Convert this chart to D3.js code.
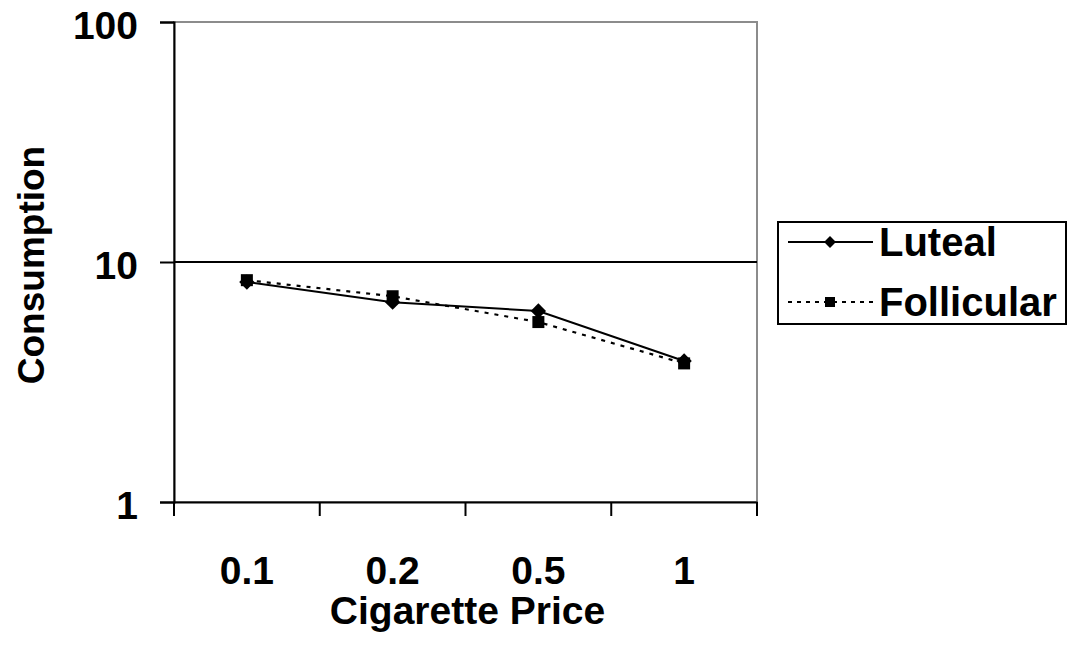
<!DOCTYPE html>
<html>
<head>
<meta charset="utf-8">
<script src="https://cdn.jsdelivr.net/npm/d3@7"></script>
<style>
  body { margin: 0; background: #fff; }
  text { font-family: Arial, "Liberation Sans", sans-serif; font-weight: bold; fill: #000; }
</style>
</head>
<body>
<div id="vis-holder"></div>
<script>
// data
const prices = ["0.1", "0.2", "0.5", "1"];
const luteal = [8.25, 6.8, 6.25, 3.87];
const follicular = [8.4, 7.2, 5.62, 3.78];
const yTicks = [1, 10, 100];

const width = 1071, height = 662;
const margin = { top: 22, right: 314, bottom: 160, left: 174 };

const svg = d3.select("#vis-holder")
  .append("svg")
  .attr("width", width)
  .attr("height", height);

let x = d3.scaleBand()
  .domain(prices)
  .range([margin.left, width - margin.right])
  .padding(0);

let y = d3.scaleLog()
  .domain([1, 100])
  .range([height - margin.bottom, margin.top]);

// frame (top/right in grey)
svg.append("rect")
  .attr("x", margin.left)
  .attr("y", margin.top)
  .attr("width", x.range()[1] - margin.left)
  .attr("height", y(1) - y(100))
  .attr("fill", "none")
  .attr("stroke", "#8c8c8c")
  .attr("stroke-width", 2);

// gridline at 10
svg.append("line")
  .attr("x1", margin.left).attr("x2", x.range()[1])
  .attr("y1", y(10)).attr("y2", y(10))
  .attr("stroke", "#000").attr("stroke-width", 1.8);

// y axis
svg.append("g")
  .attr("transform", `translate(${margin.left},0)`)
  .call(d3.axisLeft(y).tickValues(yTicks).tickSize(14).tickPadding(22).tickFormat(d3.format("d")))
  .call(g => g.select(".domain").attr("stroke-width", 2))
  .call(g => g.selectAll(".tick line").attr("stroke-width", 2))
  .call(g => g.selectAll(".tick text")
    .attr("font-size", "39px").attr("font-family", null).attr("dy", "0.42em"));

// x axis: labels at band centres, ticks at band edges
const bottom = y(1);
svg.append("g")
  .attr("transform", `translate(0,${bottom})`)
  .call(d3.axisBottom(x).tickSize(0).tickPadding(0).tickSizeOuter(0))
  .call(g => g.select(".domain").attr("stroke-width", 2.2))
  .call(g => g.selectAll(".tick text")
    .attr("font-size", "39px").attr("font-family", null)
    .attr("y", 82).attr("dy", null));

const edges = prices.map(p => x(p)).concat([x.range()[1]]);
svg.append("g").selectAll("line")
  .data(edges)
  .enter()
  .append("line")
  .attr("x1", d => d).attr("x2", d => d)
  .attr("y1", bottom).attr("y2", bottom + 14)
  .attr("stroke", "#000").attr("stroke-width", 2);

// axis titles
svg.append("text")
  .attr("x", x.range()[0] + (x.range()[1] - x.range()[0]) / 2 + 2)
  .attr("y", 624)
  .attr("text-anchor", "middle")
  .attr("font-size", "39px")
  .text("Cigarette Price");

svg.append("text")
  .attr("transform", `translate(44,${(y(1) + y(100)) / 2 + 3}) rotate(-90)`)
  .attr("text-anchor", "middle")
  .attr("font-size", "37px")
  .text("Consumption");

// series
const cx = p => x(p) + x.bandwidth() / 2;
const line = d3.line().x((d, i) => cx(prices[i])).y(d => y(d));

svg.append("path")
  .datum(follicular)
  .attr("d", line)
  .attr("fill", "none")
  .attr("stroke", "#000")
  .attr("stroke-width", 2.2)
  .attr("stroke-dasharray", "4,6");

svg.append("path")
  .datum(luteal)
  .attr("d", line)
  .attr("fill", "none")
  .attr("stroke", "#000")
  .attr("stroke-width", 2);

const diamond = d3.symbol().type(d3.symbolDiamond2).size(150);
svg.append("g").selectAll("path")
  .data(luteal)
  .enter()
  .append("path")
  .attr("d", diamond)
  .attr("transform", (d, i) => `translate(${cx(prices[i])},${y(d)})`)
  .attr("fill", "#000");

svg.append("g").selectAll("rect")
  .data(follicular)
  .enter()
  .append("rect")
  .attr("x", (d, i) => cx(prices[i]) - 6)
  .attr("y", d => y(d) - 6)
  .attr("width", 12).attr("height", 12)
  .attr("fill", "#000");

// legend
const lg = svg.append("g");
lg.append("rect")
  .attr("x", 778).attr("y", 222)
  .attr("width", 288).attr("height", 102)
  .attr("fill", "#fff").attr("stroke", "#000").attr("stroke-width", 2);

const legendRows = [
  { name: "Luteal", y: 242, dash: null },
  { name: "Follicular", y: 302, dash: "4,5" }
];
legendRows.forEach(r => {
  lg.append("line")
    .attr("x1", 788).attr("x2", 873)
    .attr("y1", r.y).attr("y2", r.y)
    .attr("stroke", "#000").attr("stroke-width", 2)
    .attr("stroke-dasharray", r.dash);
  lg.append("text")
    .attr("x", 879).attr("y", r.y)
    .attr("dy", "0.36em")
    .attr("font-size", "40px")
    .text(r.name);
});
lg.append("path")
  .attr("d", d3.symbol().type(d3.symbolDiamond2).size(90))
  .attr("transform", "translate(830,242)")
  .attr("fill", "#000");
lg.append("rect")
  .attr("x", 825).attr("y", 297).attr("width", 10).attr("height", 10)
  .attr("fill", "#000");
</script>
</body>
</html>
